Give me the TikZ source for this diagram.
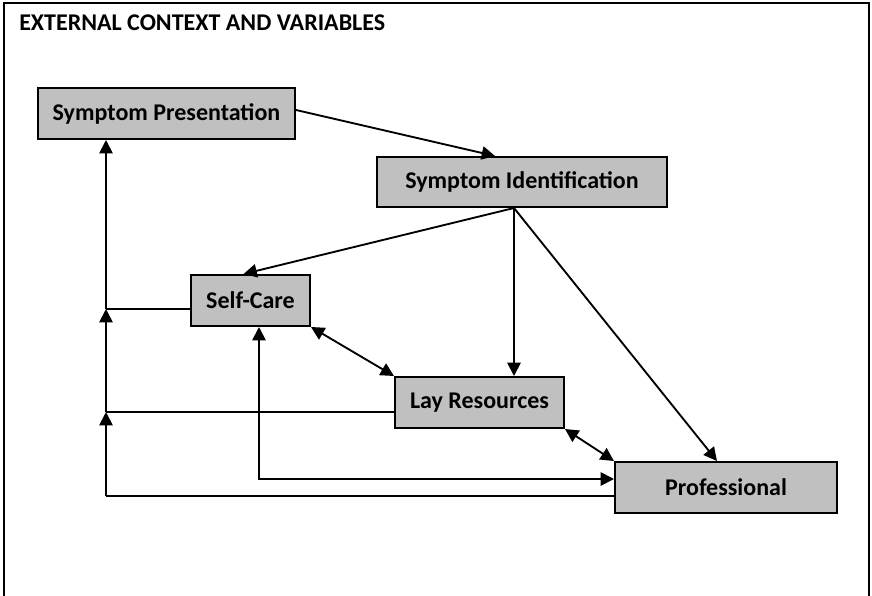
\documentclass[tikz,border=0pt]{standalone}
\usepackage{fontspec}
\setmainfont{Carlito}
\usetikzlibrary{arrows.meta,calc}

\definecolor{boxgray}{HTML}{C0C0C0}
\tikzset{
  lbl/.style={font=\fontsize{18}{21}\selectfont\bfseries},
  box/.style={lbl, draw=black, line width=1.5pt, fill=boxgray, rectangle, inner sep=0pt},
  conn/.style={line width=1.4pt, draw=black},
  arr/.style={conn, -{Triangle[length=10pt,width=10pt]}},
  darr/.style={conn, {Triangle[length=10pt,width=10pt]}-{Triangle[length=10pt,width=10pt]}},
}

\begin{document}
\begin{tikzpicture}[x=0.75pt,y=-0.75pt]
  \useasboundingbox (0,0) rectangle (872,596);
  \fill[white] (0,0) rectangle (872,596);

  % outer frame, open at the foot of the page
  \begin{scope}
    \clip (0,0) rectangle (872,596);
    \draw[line width=1.6pt] (4,620) -- (4,3) -- (869,3) -- (869,620);
  \end{scope}

  \node[lbl, anchor=base west, inner sep=0pt] (title) at (19,31)
    {EXTERNAL CONTEXT AND VARIABLES};

  % boxes
  \node[box, minimum width=192.75pt, minimum height=38.25pt] (sp) at (166.5,113.5) {Symptom Presentation};
  \node[box, minimum width=217.5pt, minimum height=37.5pt] (si) at (522,182) {Symptom Identification};
  \node[box, minimum width=89.25pt, minimum height=38.25pt] (sc) at (250.5,300.5) {Self-Care};
  \node[box, minimum width=126.75pt, minimum height=38.25pt] (lr) at (479.5,402.5) {Lay Resources};
  \node[box, minimum width=166.5pt, minimum height=38.25pt] (pr) at (726,487.5) {Professional};

  % helper points
  \coordinate (busx) at (106,0);
  \coordinate (sib) at ($(si.south)+(-8,0)$);
  \coordinate (spe) at ($(sp.east)+(0,-3.5)$);
  \coordinate (scw) at ($(sc.west)+(0,8.5)$);
  \coordinate (lrw) at ($(lr.west)+(0,9.5)$);
  \coordinate (prw) at ($(pr.west)+(0,8.5)$);
  \coordinate (prwu) at ($(pr.west)+(0,-8.5)$);
  \coordinate (scs) at ($(sc.south)+(8.5,0)$);

  % flow from presentation through identification
  \draw[arr] (spe) -- ($(si.north)+(-27,0)$);
  \draw[arr] (sib) -- ($(sc.north)+(-7,0)$);
  \draw[arr] (sib) -- (sib |- lr.north);
  \draw[arr] (sib) -- ($(pr.north)+(-9,0)$);

  % exchanges between care options
  \draw[darr] (sc.south east) -- (lr.north west);
  \draw[darr] (lr.south east) -- (pr.north west);
  \draw[darr] (scs) |- (prwu);

  % feedback bus on the left
  \draw[conn] (scw) -- (scw -| busx);
  \draw[conn] (lrw) -- (lrw -| busx);
  \draw[conn] (prw) -- (prw -| busx);
  \draw[arr] (scw -| busx) -- (sp.south -| busx);
  \draw[arr] (lrw -| busx) -- (scw -| busx);
  \draw[arr] (prw -| busx) -- (lrw -| busx);
\end{tikzpicture}
\end{document}
